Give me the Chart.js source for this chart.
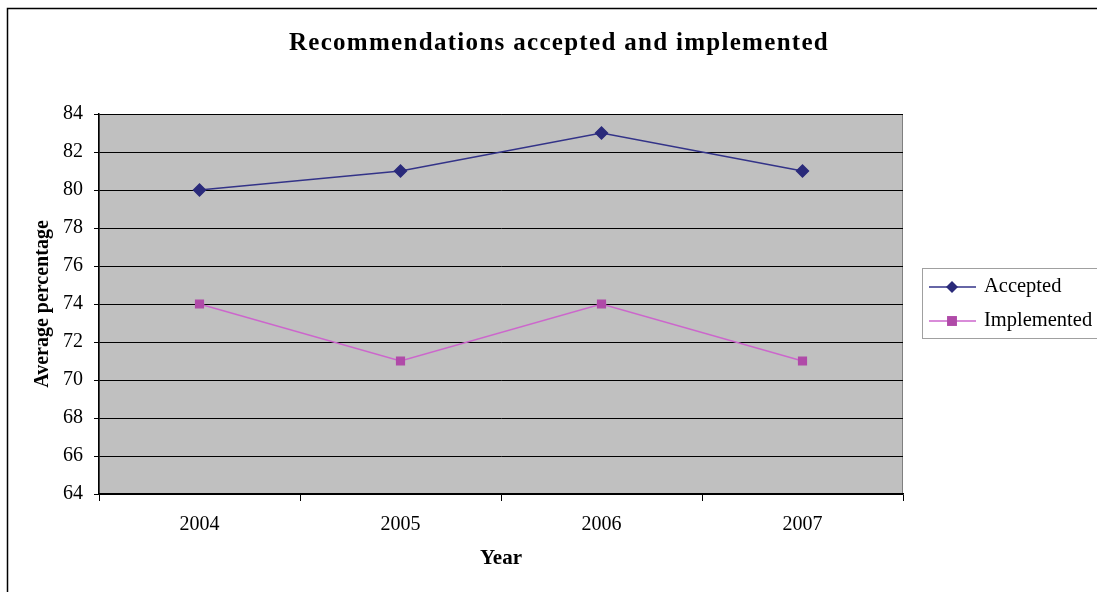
<!DOCTYPE html>
<html>
<head>
<meta charset="utf-8">
<script src="https://cdn.jsdelivr.net/npm/chart.js@4/dist/chart.umd.min.js"></script>
<style>
  html, body { margin: 0; padding: 0; background: #ffffff; }
  #wrap { width: 1097px; height: 592px; }
</style>
</head>
<body>
<div id="wrap"><canvas id="chart" width="1097" height="592"></canvas></div>
<script>
// Chart data
const years = ['2004', '2005', '2006', '2007'];
const accepted = [80, 81, 83, 81];
const implemented = [74, 71, 74, 71];
const yTicks = [64, 66, 68, 70, 72, 74, 76, 78, 80, 82, 84];

const chartTitle = 'Recommendations accepted and implemented';
const xTitle = 'Year';
const yTitle = 'Average percentage';

const SERIF = '"Liberation Serif", "Times New Roman", serif';
const hasSpacing = 'letterSpacing' in CanvasRenderingContext2D.prototype;

// Frame, grey plot background, title and side legend
const decorations = {
  id: 'decorations',
  beforeDraw(chart) {
    const { ctx, chartArea: a } = chart;
    ctx.save();
    ctx.fillStyle = '#ffffff';
    ctx.fillRect(0, 0, chart.width, chart.height);
    // outer frame
    ctx.strokeStyle = '#000000';
    ctx.lineWidth = 1.5;
    ctx.strokeRect(7.5, 8.5, chart.width + 10, chart.height + 10);
    // plot area
    ctx.fillStyle = '#c0c0c0';
    ctx.fillRect(a.left, a.top, a.right - a.left, a.bottom - a.top);
    ctx.strokeStyle = '#808080';
    ctx.lineWidth = 1;
    ctx.strokeRect(a.left + 0.5, a.top + 0.5, a.right - a.left - 1, a.bottom - a.top - 1);
    ctx.restore();
  },
  afterDraw(chart) {
    const { ctx } = chart;
    ctx.save();
    // title
    ctx.fillStyle = '#000000';
    ctx.font = 'bold 25px ' + SERIF;
    ctx.textAlign = 'center';
    ctx.textBaseline = 'middle';
    if (hasSpacing) ctx.letterSpacing = '1.3px';
    ctx.fillText(chartTitle, 559, 44);
    if (hasSpacing) ctx.letterSpacing = '0px';

    // legend
    const lx = 922, ly = 268, lw = 190, lh = 70;
    ctx.fillStyle = '#ffffff';
    ctx.fillRect(lx, ly, lw, lh);
    ctx.strokeStyle = '#a0a0a0';
    ctx.lineWidth = 1;
    ctx.strokeRect(lx + 0.5, ly + 0.5, lw, lh);
    ctx.font = '20.5px ' + SERIF;
    ctx.textAlign = 'left';
    ctx.textBaseline = 'middle';
    chart.data.datasets.forEach((ds, i) => {
      const y = 287 + i * 34;
      ctx.strokeStyle = ds.borderColor;
      ctx.lineWidth = 1.4;
      ctx.beginPath();
      ctx.moveTo(929, y);
      ctx.lineTo(976, y);
      ctx.stroke();
      ctx.fillStyle = ds.pointBackgroundColor;
      const r = ds.pointRadius;
      if (ds.pointStyle === 'rectRot') {
        ctx.beginPath();
        ctx.moveTo(952, y - r);
        ctx.lineTo(952 + r, y);
        ctx.lineTo(952, y + r);
        ctx.lineTo(952 - r, y);
        ctx.closePath();
        ctx.fill();
      } else {
        const s = r * 0.9;
        ctx.fillRect(952 - s, y - s, 2 * s, 2 * s);
      }
      ctx.fillStyle = '#000000';
      ctx.fillText(ds.label, 984, y);
    });
    ctx.restore();
  }
};

new Chart(document.getElementById('chart'), {
  type: 'line',
  data: {
    labels: years,
    datasets: [
      {
        label: 'Accepted',
        data: accepted,
        borderColor: '#333388',
        backgroundColor: '#2a2a7a',
        pointBackgroundColor: '#2a2a7a',
        pointBorderColor: '#2a2a7a',
        pointStyle: 'rectRot',
        pointRadius: 6,
        borderWidth: 1.4,
        tension: 0
      },
      {
        label: 'Implemented',
        data: implemented,
        borderColor: '#cc66cc',
        backgroundColor: '#b04aa8',
        pointBackgroundColor: '#b04aa8',
        pointBorderColor: '#b04aa8',
        pointStyle: 'rect',
        pointRadius: 5.5,
        borderWidth: 1.4,
        tension: 0
      }
    ]
  },
  options: {
    responsive: false,
    animation: false,
    events: [],
    layout: { padding: { left: 20, right: 194, top: 114, bottom: 0 } },
    plugins: {
      legend: { display: false },
      title: { display: false },
      tooltip: { enabled: false }
    },
    scales: {
      x: {
        type: 'category',
        offset: true,
        afterFit(scale) { scale.height = 98; },
        grid: {
          offset: true,
          drawOnChartArea: false,
          drawTicks: true,
          tickLength: 7,
          color: '#000000',
          lineWidth: 1
        },
        border: { display: true, color: '#000000', width: 1.5 },
        ticks: {
          color: '#000000',
          padding: 12,
          font: { family: SERIF, size: 20 }
        },
        title: {
          display: true,
          text: xTitle,
          color: '#000000',
          font: { family: SERIF, size: 21, weight: 'bold' },
          padding: { top: 0, bottom: 21 }
        }
      },
      y: {
        min: yTicks[0],
        max: yTicks[yTicks.length - 1],
        afterFit(scale) { scale.width = 79; },
        afterBuildTicks(scale) { scale.ticks = yTicks.map(v => ({ value: v })); },
        grid: {
          color: '#000000',
          lineWidth: 1,
          drawTicks: true,
          tickLength: 5
        },
        border: { display: true, color: '#000000', width: 1.5 },
        ticks: {
          color: '#000000',
          padding: 11,
          font: { family: SERIF, size: 20 }
        },
        title: {
          display: true,
          text: yTitle,
          color: '#000000',
          font: { family: SERIF, size: 20, weight: 'bold' },
          padding: { top: 11, bottom: 0 }
        }
      }
    }
  },
  plugins: [decorations]
});
</script>
</body>
</html>
